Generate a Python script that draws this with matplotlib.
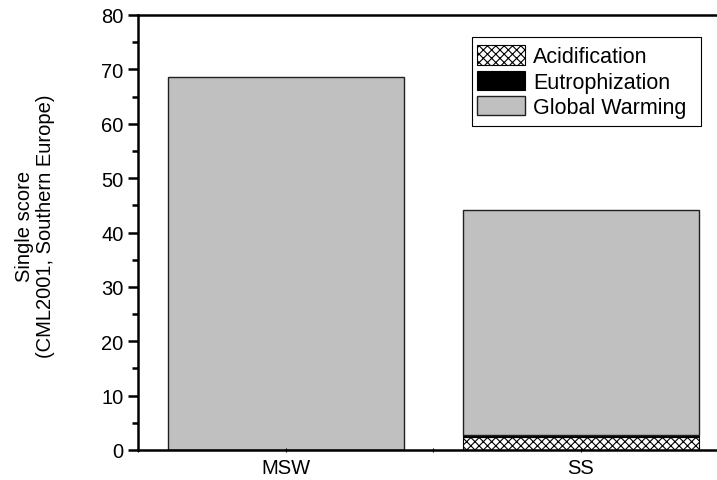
import numpy as np
import matplotlib
matplotlib.use("Agg")
import matplotlib.pyplot as plt
from matplotlib.ticker import MultipleLocator
from matplotlib.patches import Rectangle

plt.rcParams['font.family'] = ['Liberation Sans', 'DejaVu Sans']
plt.rcParams['hatch.linewidth'] = 0.8

## Data
sites = ["MSW", "SS"]
acidification = [0.0, 2.3]
eutrophization = [0.0, 0.5]
global_warming = [68.6, 41.4]

W, H = 717, 481
fig = plt.figure(figsize=(W/100, H/100), dpi=100, facecolor="white")
# axes runs off the right edge of the canvas, as in the reference
ax = fig.add_axes([138/W, 30/H, 590/W, 435/H])

x = np.arange(len(sites))
acid = np.array(acidification)
eutro = np.array(eutrophization)
gw = np.array(global_warming)

ax.bar(x, acid, width=0.8, color="white", edgecolor="black", hatch="xxxx",
       lw=0.8, label="Acidification")
ax.bar(x, eutro, width=0.8, bottom=acid, color="black", edgecolor="black",
       lw=0.8, label="Eutrophization")
ax.bar(x, gw, width=0.8, bottom=acid+eutro, color="#c0c0c0", edgecolor="#202020",
       lw=1.0, label="Global Warming")

ax.set_xlim(-0.5, 1.5)
ax.set_ylim(0, 80)
ax.set_xticks(x)
ax.set_xticklabels(sites, fontsize=14.5)
ax.xaxis.set_minor_locator(MultipleLocator(0.5))
ax.yaxis.set_major_locator(MultipleLocator(10))
ax.yaxis.set_minor_locator(MultipleLocator(5))

ax.tick_params(axis="y", which="major", direction="out", length=7.5, width=1.8,
               labelsize=14.5, pad=3)
ax.tick_params(axis="y", which="minor", direction="out", length=4, width=1.8)
ax.tick_params(axis="x", which="both", direction="inout", length=3, width=0.8,
               labelsize=14.5, pad=4)

for s in ax.spines.values():
    s.set_linewidth(1.8)

fig.text(35/W, 1 - 226/H, "Single score\n(CML2001, Southern Europe)",
         rotation=90, ha="center", va="center", fontsize=14.5,
         linespacing=1.2, multialignment="center")

# legend without its own frame, box drawn by hand
leg = ax.legend(loc="upper left", bbox_to_anchor=(473/W, 1 - 42/H),
                bbox_transform=fig.transFigure, borderaxespad=0,
                fontsize=15.5, frameon=False,
                handlelength=2.2, handleheight=1.0, handletextpad=0.4,
                labelspacing=0.15, borderpad=0.2)
fig.patches.append(Rectangle((472/W, 1 - 127/H), 229/W, 89/H,
                             transform=fig.transFigure, facecolor="none",
                             edgecolor="black", lw=0.8, zorder=5))

fig.savefig("out.png", dpi=100)
